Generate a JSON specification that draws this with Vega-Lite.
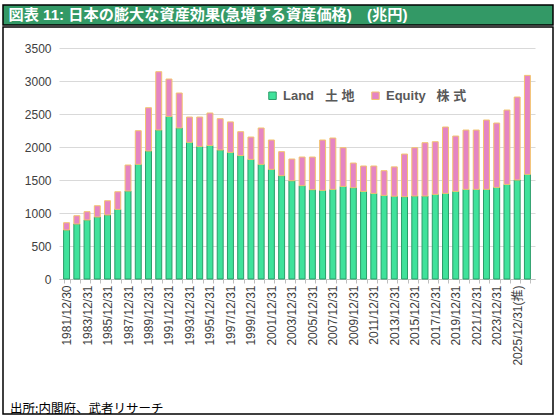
{
  "$schema": "https://vega.github.io/schema/vega-lite/v6.json",
  "description": "図表 11: 日本の膨大な資産効果 (土地・株式, 兆円)",
  "padding": {"left": -4, "top": 4, "right": 7, "bottom": 5},
  "spacing": 0,
  "background": "white",
  "datasets": {
    "assets": [
      {"date": "1981/12/30", "Land": 742, "Equity": 111},
      {"date": "1982/12/31", "Land": 833, "Equity": 126},
      {"date": "1983/12/31", "Land": 894, "Equity": 126},
      {"date": "1984/12/31", "Land": 939, "Equity": 171},
      {"date": "1985/12/31", "Land": 970, "Equity": 216},
      {"date": "1986/12/31", "Land": 1055, "Equity": 267},
      {"date": "1987/12/31", "Land": 1333, "Equity": 394},
      {"date": "1988/12/31", "Land": 1737, "Equity": 510},
      {"date": "1989/12/31", "Land": 1939, "Equity": 656},
      {"date": "1990/12/31", "Land": 2257, "Equity": 884},
      {"date": "1991/12/31", "Land": 2464, "Equity": 566},
      {"date": "1992/12/31", "Land": 2288, "Equity": 530},
      {"date": "1993/12/31", "Land": 2070, "Equity": 384},
      {"date": "1994/12/31", "Land": 2009, "Equity": 445},
      {"date": "1995/12/31", "Land": 2024, "Equity": 491},
      {"date": "1996/12/31", "Land": 1954, "Equity": 475},
      {"date": "1997/12/31", "Land": 1918, "Equity": 462},
      {"date": "1998/12/31", "Land": 1870, "Equity": 362},
      {"date": "1999/12/31", "Land": 1812, "Equity": 339},
      {"date": "2000/12/31", "Land": 1737, "Equity": 551},
      {"date": "2001/12/31", "Land": 1661, "Equity": 445},
      {"date": "2002/12/31", "Land": 1565, "Equity": 364},
      {"date": "2003/12/31", "Land": 1489, "Equity": 329},
      {"date": "2004/12/31", "Land": 1414, "Equity": 434},
      {"date": "2005/12/31", "Land": 1353, "Equity": 495},
      {"date": "2006/12/31", "Land": 1343, "Equity": 763},
      {"date": "2007/12/31", "Land": 1358, "Equity": 778},
      {"date": "2008/12/31", "Land": 1403, "Equity": 586},
      {"date": "2009/12/31", "Land": 1383, "Equity": 374},
      {"date": "2010/12/31", "Land": 1327, "Equity": 385},
      {"date": "2011/12/31", "Land": 1297, "Equity": 415},
      {"date": "2012/12/31", "Land": 1267, "Equity": 374},
      {"date": "2013/12/31", "Land": 1254, "Equity": 445},
      {"date": "2014/12/31", "Land": 1247, "Equity": 646},
      {"date": "2015/12/31", "Land": 1257, "Equity": 732},
      {"date": "2016/12/31", "Land": 1257, "Equity": 808},
      {"date": "2017/12/31", "Land": 1282, "Equity": 798},
      {"date": "2018/12/31", "Land": 1297, "Equity": 1006},
      {"date": "2019/12/31", "Land": 1327, "Equity": 839},
      {"date": "2020/12/31", "Land": 1358, "Equity": 899},
      {"date": "2021/12/31", "Land": 1358, "Equity": 899},
      {"date": "2022/12/31", "Land": 1358, "Equity": 1051},
      {"date": "2023/12/31", "Land": 1388, "Equity": 975},
      {"date": "2024/12/31", "Land": 1433, "Equity": 1127},
      {"date": "2025/12/31(推)", "Land": 1500, "Equity": 1257},
      {"date": "2026/12/31(推)", "Land": 1585, "Equity": 1500}
    ]
  },
  "vconcat": [
    {
      "width": 550,
      "height": 20,
      "view": {"fill": "#339966", "stroke": "black", "strokeWidth": 1.5},
      "data": {"values": [{"t": "図表 11: 日本の膨大な資産効果(急増する資産価格)　(兆円)"}]},
      "mark": {
        "type": "text",
        "align": "left",
        "baseline": "middle",
        "color": "white",
        "font": "Liberation Sans, Noto Sans CJK JP",
        "fontSize": 15.2,
        "fontWeight": "bold"
      },
      "encoding": {
        "text": {"field": "t"},
        "x": {"datum": 0, "type": "quantitative", "scale": {"domain": [-0.01, 1], "zero": false, "nice": false}, "axis": null},
        "y": {"datum": 0.5, "type": "quantitative", "scale": {"domain": [0, 1], "nice": false}, "axis": null}
      }
    },
    {
      "width": 550,
      "height": 387,
      "view": {"fill": "white", "stroke": "black", "strokeWidth": 1.5},
      "title": {
        "text": "出所:内閣府、武者リサーチ",
        "orient": "bottom",
        "anchor": "start",
        "frame": "group",
        "offset": -11,
        "baseline": "top",
        "dx": 7,
        "color": "black",
        "font": "Noto Sans CJK JP",
        "fontSize": 12.5,
        "fontWeight": "normal"
      },
      "data": {"name": "assets"},
      "transform": [{"fold": ["Land", "Equity"], "as": ["series", "value"]}],
      "mark": {"type": "bar", "strokeWidth": 1},
      "encoding": {
        "x": {
          "field": "date",
          "type": "ordinal",
          "sort": null,
          "scale": {"range": [56, 532], "paddingInner": 0.42, "paddingOuter": 0.45},
          "axis": {
            "title": null,
            "offset": -135,
            "labelAngle": -90,
            "labelExpr": "toNumber(substring(datum.value, 0, 4)) % 2 == 1 ? datum.value : ''",
            "tickBand": "extent",
            "tickSize": 4,
            "tickColor": "#bfbfbf",
            "domainColor": "#bfbfbf",
            "labelPadding": 2,
            "labelFont": "Liberation Sans, Noto Sans CJK JP",
            "labelFontSize": 12,
            "labelColor": "#404040",
            "labelOverlap": false,
            "labelBound": false
          }
        },
        "y": {
          "field": "value",
          "type": "quantitative",
          "stack": "zero",
          "scale": {"domain": [0, 3500], "range": [252, 21], "nice": false},
          "axis": {
            "title": null,
            "offset": -56,
            "ticks": false,
            "domain": false,
            "labelPadding": 8,
            "format": "d",
            "values": [0, 500, 1000, 1500, 2000, 2500, 3000, 3500],
            "grid": true,
            "gridColor": "#d9d9d9",
            "labelFont": "Liberation Sans",
            "labelFontSize": 12,
            "labelColor": "#404040"
          }
        },
        "fill": {
          "field": "series",
          "type": "nominal",
          "scale": {"domain": ["Land", "Equity"], "range": ["#3fe29b", "#e585c3"]},
          "legend": {
            "title": null,
            "orient": "none",
            "legendX": 263,
            "legendY": 84,
            "direction": "horizontal",
            "symbolType": "square",
            "symbolSize": 56,
            "symbolStrokeWidth": 1,
            "labelFont": "Liberation Sans, Noto Sans CJK JP",
            "labelFontSize": 13,
            "labelFontWeight": "bold",
            "labelColor": "#595959",
            "labelOffset": 4,
            "columnPadding": 14,
            "labelExpr": "datum.label == 'Land' ? 'Land\u00a0\u00a0\u00a0土\u00a0地' : 'Equity\u00a0\u00a0\u00a0株\u00a0式'"
          }
        },
        "stroke": {
          "field": "series",
          "type": "nominal",
          "scale": {"domain": ["Land", "Equity"], "range": ["#2a9c69", "#f3c46f"]}
        },
        "order": {"field": "series", "sort": "descending"}
      }
    }
  ]
}
